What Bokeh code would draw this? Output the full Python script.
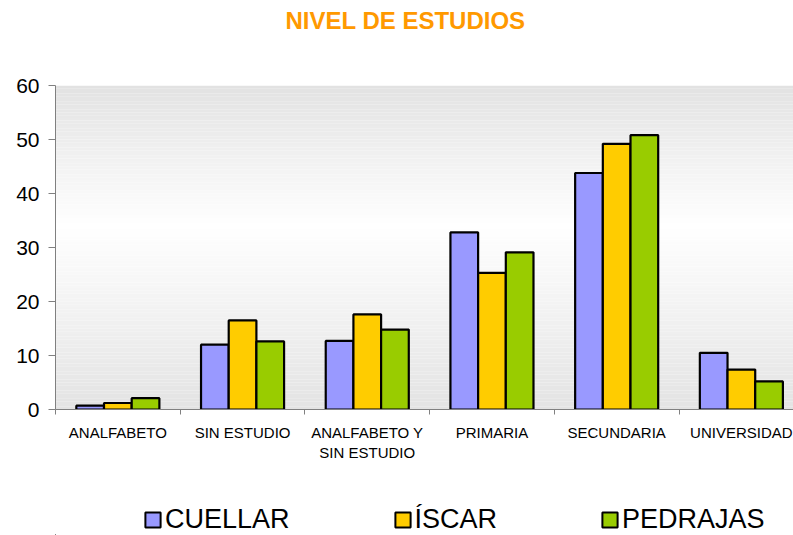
from bokeh.plotting import figure
from bokeh.layouts import column
from bokeh.models import (Range1d, FixedTicker, Legend, LegendItem, Title)
from bokeh.embed import file_html
from bokeh.resources import INLINE

# ---- data ----
categories = ["ANALFABETO", "SIN ESTUDIO", "ANALFABETO Y\nSIN ESTUDIO",
              "PRIMARIA", "SECUNDARIA", "UNIVERSIDAD"]
series_names = ["CUELLAR", "ÍSCAR", "PEDRAJAS"]
cuellar = [0.7, 12.0, 12.7, 32.8, 43.8, 10.5]
iscar = [1.2, 16.5, 17.6, 25.3, 49.2, 7.4]
pedrajas = [2.1, 12.6, 14.8, 29.1, 50.8, 5.2]
y_ticks = [0, 10, 20, 30, 40, 50, 60]
title_text = "NIVEL DE ESTUDIOS"

series_values = [cuellar, iscar, pedrajas]
colors = ["#9999FF", "#FFCC00", "#99CC00"]
FONT = "Liberation Sans"

n = len(categories)
x_end = 5.918

# ---- title strip ----
tf = figure(width=793, height=42, output_backend="svg", toolbar_location=None,
            x_axis_location=None, y_axis_location=None,
            x_range=Range1d(0, 1), y_range=Range1d(0, 1),
            min_border_left=0, min_border_right=0, min_border_top=0,
            min_border_bottom=0)
tf.grid.visible = False
tf.outline_line_color = None
tf.title = Title(text=title_text, align="left", offset=230,
                 vertical_align="top", standoff=12,
                 text_font=FONT, text_font_size="24px", text_font_style="bold",
                 text_color="#FF9900")

# ---- main chart ----
p = figure(width=793, height=457, output_backend="svg", toolbar_location=None,
           x_range=Range1d(0, x_end), y_range=Range1d(0, 60),
           min_border_left=55, min_border_right=0, min_border_top=43,
           min_border_bottom=90)
p.outline_line_color = None
p.grid.visible = False
p.background_fill_color = "white"
p.border_fill_color = "white"

# background gradient (styling only)
steps = 120
for i in range(steps):
    y0 = 60 * i / steps
    y1 = 60 * (i + 1) / steps
    ym = (y0 + y1) / 2
    if ym >= 34:
        t = (ym - 34) / 26
        g = int(round(255 - t * (255 - 226)))
    else:
        t = (34 - ym) / 34
        g = int(round(255 - t * (255 - 227)))
    p.quad(left=0, right=6, bottom=y0, top=y1,
           fill_color=(g, g, g), line_color=None)

# bars
bar_w = 0.222
offsets = [-bar_w, 0, bar_w]
for vals, col, off in zip(series_values, colors, offsets):
    xs = [i + 0.5 + off for i in range(n)]
    p.vbar(x=xs, top=vals, width=bar_w, bottom=0, fill_color=col,
           line_color="black", line_width=2.2)

# x axis
xa = p.xaxis[0]
xa.ticker = FixedTicker(ticks=[i + 0.5 for i in range(n)],
                        minor_ticks=list(range(n + 1)))
xa.major_label_overrides = {i + 0.5: c for i, c in enumerate(categories)}
xa.major_tick_out = 0
xa.major_tick_in = 0
xa.minor_tick_out = 5
xa.minor_tick_in = 0
xa.minor_tick_line_color = "#808080"
xa.axis_line_color = "#808080"
xa.major_label_text_font = FONT
xa.major_label_text_font_size = "15px"
xa.major_label_text_color = "#000000"
xa.major_label_standoff = 9

# y axis
ya = p.yaxis[0]
ya.ticker = FixedTicker(ticks=y_ticks, minor_ticks=[])
ya.major_tick_out = 7
ya.major_tick_in = 0
ya.major_tick_line_color = "#808080"
ya.axis_line_color = "#808080"
ya.major_label_text_font = FONT
ya.major_label_text_font_size = "21px"
ya.major_label_text_color = "#000000"
ya.major_label_standoff = 9

# ---- legend strip ----
lg = figure(width=793, height=36, output_backend="svg", toolbar_location=None,
            x_axis_location=None, y_axis_location=None,
            x_range=Range1d(0, 1), y_range=Range1d(0, 1),
            min_border_left=0, min_border_right=0, min_border_top=0,
            min_border_bottom=0)
lg.grid.visible = False
lg.outline_line_color = None
lg_renderers = []
for col in colors:
    # legend swatch only: the shape lies far outside the strip's visible range
    r = lg.vbar(x=[-50], top=[-50], bottom=-60, width=1, fill_color=col,
                line_color="black", line_width=2)
    lg_renderers.append(r)
items = [LegendItem(label=name, renderers=[r]) for name, r in zip(series_names, lg_renderers)]
legend = Legend(items=items, orientation="horizontal", location=(88, 0),
                spacing=103, padding=0, margin=0, label_standoff=3,
                glyph_width=19, glyph_height=19,
                label_text_font=FONT, label_text_font_size="27px",
                label_text_color="#000000",
                background_fill_alpha=0, border_line_alpha=0)
lg.add_layout(legend, "center")

layout = column(tf, p, lg, spacing=0)
html = file_html(layout, INLINE)
open("out.html", "w").write(html)
